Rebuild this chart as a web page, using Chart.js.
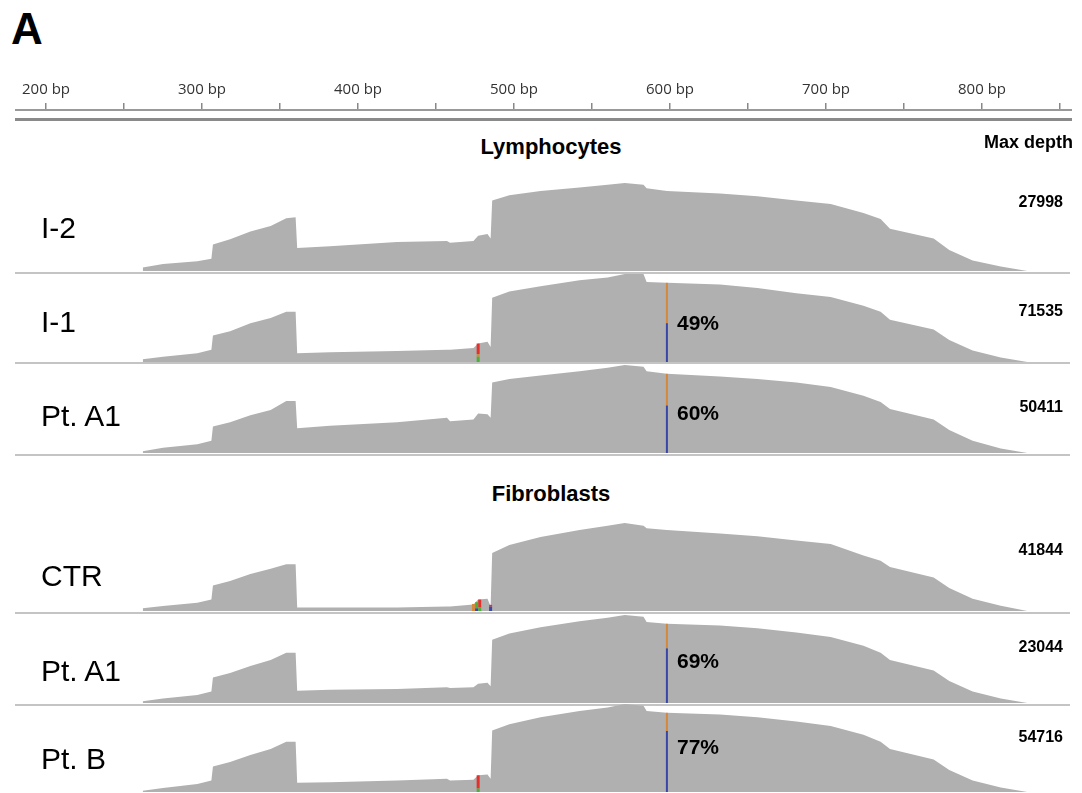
<!DOCTYPE html>
<html>
<head>
<meta charset="utf-8">
<script src="https://cdn.jsdelivr.net/npm/chart.js@4.4.1/dist/chart.umd.min.js"></script>
<style>
  body { margin:0; background:#fff; }
  #page { position:relative; width:1082px; height:793px; overflow:hidden; background:#fff; font-family:"Liberation Sans", Arial, sans-serif; }
  canvas { position:absolute; }
  .txt { position:absolute; white-space:nowrap; color:#000; }
  .hline { position:absolute; left:15px; width:1055px; background:#c4c4c4; height:2px; }
</style>
</head>
<body>
<div id="page"></div>
<script>
// genomic positions (bp) where the coverage outline changes
const POS = [262, 275, 297, 306, 307, 318, 331, 344, 354, 360, 361, 382, 425, 457, 459, 474, 477, 483, 485, 486,
             497, 517, 542, 560, 571, 583, 585, 598, 632, 656, 681, 703, 724, 735, 741, 769, 779, 794, 812, 829];

// coverage, % of each track's max depth
const COV_I2   = [4, 8, 11, 14, 30, 36, 45, 51, 60, 61, 26, 28, 33, 34, 32, 34, 40, 42, 37, 80,
                  86, 91, 95, 98, 100, 98, 94, 91, 88, 85, 80, 76, 66, 59, 48, 37, 24, 12, 5, 0];
const COV_I1   = [3, 6, 10, 14, 30, 35, 44, 50, 57, 57, 10, 11, 12.5, 14, 14, 16, 21, 23, 17, 73,
                  80, 86, 93, 96, 100, 100, 91, 90, 88, 84, 78, 74, 64, 57, 48, 37, 25, 13, 5, 0];
const COV_A1L  = [2, 6, 10, 14, 30, 35, 43, 49, 59, 59, 28, 31, 35, 40, 36, 38, 45, 44, 40, 80,
                  84, 88, 93, 97, 100, 98, 93, 90, 87, 84, 80, 75, 65, 58, 50, 38, 26, 14, 5, 0];
const COV_CTR  = [3, 5.6, 9.5, 13, 29, 34, 42, 48, 53, 53, 4, 4, 4, 5, 5, 7.5, 13, 14, 5, 66,
                  75, 84, 92, 97, 100, 97, 94, 92, 88, 85, 80, 76, 63, 57, 50, 38, 26, 14, 6, 0];
const COV_A1F  = [2, 5, 9, 13, 29, 34, 42, 49, 57, 57, 14, 15, 16, 18, 17, 18, 22, 23, 19, 72,
                  79, 86, 93, 97, 100, 98, 92, 90, 88, 85, 80, 75, 65, 57, 49, 37, 25, 13, 5, 0];
const COV_B    = [1.5, 4.5, 9, 13, 29, 34, 42, 49, 57, 57, 10.5, 11, 13, 15, 13, 14, 19, 20, 15, 70,
                  77, 85, 92, 96, 100, 98, 92, 90, 88, 85, 80, 75, 65, 57, 49, 37, 25, 13, 5, 0];

const NAMES = ["I-2", "I-1", "Pt. A1", "CTR", "Pt. A1", "Pt. B"];
const MAX_DEPTH = [27998, 71535, 50411, 41844, 23044, 54716];
const ALT_PCT = [null, 49, 60, null, 69, 77];   // % C at the variant
const VARIANT_BP = 598;

// small mismatch columns: [bp, from %, to %, base]
const MM_I1  = [[477, 0, 6, "A"], [477, 6, 9, "G"], [477, 9, 21, "T"]];
const MM_CTR = [[474, 0, 8, "G"], [476, 0, 3, "C"], [476, 3, 10, "A"], [478, 0, 4, "A"], [478, 4, 13, "T"],
                [485, 0, 5, "C"], [485, 5, 7, "T"]];
const MM_B   = [[477, 0, 4, "A"], [477, 4, 19, "T"]];

const RULER_TICKS = [200, 300, 400, 500, 600, 700, 800];

const BASE_COLOR = { A: "#4fae38", C: "#3846a8", G: "#d4883c", T: "#e2302a" };

// --- layout ---
const PX_PER_BP = 1.56;
const BP_AT_0 = 170.5;
const bpAt = (px) => BP_AT_0 + px / PX_PER_BP;

const TRACK_TOP = [183, 274, 365, 523, 615, 704];
const TRACK_H = 88;
const NAME_Y = [228, 322, 416, 576, 671, 759];
const DEPTH_Y = [202, 311, 407, 550, 647, 737];
const PCT_Y = [null, 323, 413, null, 661, 747];
const LINE_Y = [272, 362, 454, 612, 704];

const page = document.getElementById("page");

function addText(text, css) {
  const d = document.createElement("div");
  d.className = "txt";
  d.textContent = text;
  Object.assign(d.style, css);
  page.appendChild(d);
  return d;
}

function addCanvas(left, top, w, h) {
  const c = document.createElement("canvas");
  c.width = w; c.height = h;
  c.style.left = left + "px"; c.style.top = top + "px";
  c.style.width = w + "px"; c.style.height = h + "px";
  page.appendChild(c);
  return c;
}

// --- ruler ---
const rc = addCanvas(15, 70, 1057, 44);
new Chart(rc.getContext("2d"), {
  type: "line",
  data: { datasets: [] },
  options: {
    responsive: false, animation: false,
    layout: { padding: 0 },
    plugins: { legend: { display: false }, tooltip: { enabled: false } },
    scales: {
      x: {
        type: "linear", position: "top",
        min: bpAt(15), max: bpAt(1072),
        afterFit: (s) => { s.height = 40; s.paddingLeft = 0; s.paddingRight = 0; },
        ticks: {
          stepSize: 50, includeBounds: false, maxRotation: 0, autoSkip: false, padding: 4,
          color: "#333", font: { family: "'Open Sans'", size: 15 },
          callback: (v) => RULER_TICKS.includes(v) ? v + " bp" : ""
        },
        grid: { display: true, drawOnChartArea: false, drawTicks: true, tickLength: 7, color: "#888", lineWidth: 1.5 },
        border: { display: true, color: "#999", width: 2 }
      },
      y: { display: false, min: 0, max: 1 }
    }
  }
});
const dbl = document.createElement("div");
Object.assign(dbl.style, { position: "absolute", left: "15px", width: "1057px", top: "118px", height: "3px", background: "#8a8a8a" });
page.appendChild(dbl);

// --- separator lines ---
LINE_Y.forEach((y) => {
  const l = document.createElement("div");
  l.className = "hline";
  l.style.top = y + "px";
  page.appendChild(l);
});

// --- tracks ---
const COVS = [COV_I2, COV_I1, COV_A1L, COV_CTR, COV_A1F, COV_B];
const MMS = [[], MM_I1, [], MM_CTR, [], MM_B];

function column(bp, y0, y1, color, width) {
  return {
    order: 0,
    data: [{ x: bp, y: y0 }, { x: bp, y: y1 }],
    borderColor: color, borderWidth: width, pointRadius: 0, fill: false, borderCapStyle: "butt"
  };
}

COVS.forEach((cov, i) => {
  const c = addCanvas(0, TRACK_TOP[i], 1082, TRACK_H);
  const datasets = [{
    order: 5,   // drawn underneath the allele columns
    data: POS.map((x, k) => ({ x, y: cov[k] })),
    borderWidth: 0, borderColor: "#b0b0b0", backgroundColor: "#b0b0b0",
    pointRadius: 0, fill: "origin", tension: 0
  }];
  MMS[i].forEach(([bp, a, b, base]) => datasets.push(column(bp, a, b, BASE_COLOR[base], 3)));
  if (ALT_PCT[i] != null) {
    const top = cov[POS.indexOf(VARIANT_BP)];
    const split = top * ALT_PCT[i] / 100;
    datasets.push(column(VARIANT_BP, 0, split, BASE_COLOR.C, 2));
    datasets.push(column(VARIANT_BP, split, top, BASE_COLOR.G, 2));
  }
  new Chart(c.getContext("2d"), {
    type: "line",
    data: { datasets },
    options: {
      responsive: false, animation: false,
      layout: { padding: 0 },
      plugins: { legend: { display: false }, tooltip: { enabled: false } },
      scales: {
        x: { type: "linear", display: false, min: bpAt(0), max: bpAt(1082) },
        y: { display: false, min: 0, max: 100 }
      }
    }
  });

  addText(NAMES[i], { left: "41px", top: (NAME_Y[i] - 16.7) + "px", fontSize: "30px", lineHeight: "34px" });
  addText(String(MAX_DEPTH[i]), { right: "19px", top: (DEPTH_Y[i] - 8.8) + "px", fontSize: "16px", lineHeight: "18px", fontWeight: "bold" });
  if (ALT_PCT[i] != null) {
    addText(ALT_PCT[i] + "%", { left: "677px", top: (PCT_Y[i] - 11.7) + "px", fontSize: "21px", lineHeight: "24px", fontWeight: "bold" });
  }
});

// --- headings ---
addText("A", { left: "11px", top: "5px", fontSize: "44px", lineHeight: "48px", fontWeight: "bold" });
addText("Lymphocytes", { left: "551px", top: "134px", transform: "translateX(-50%)", fontSize: "22px", lineHeight: "26px", fontWeight: "bold" });
addText("Fibroblasts", { left: "551px", top: "481px", transform: "translateX(-50%)", fontSize: "22px", lineHeight: "26px", fontWeight: "bold" });
addText("Max depth", { right: "9px", top: "132px", fontSize: "18px", lineHeight: "21px", fontWeight: "bold" });
</script>
</body>
</html>
